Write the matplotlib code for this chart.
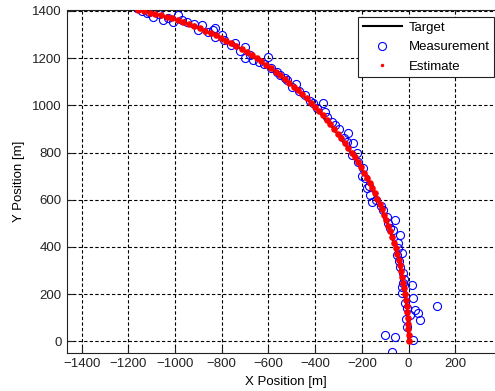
import matplotlib.pyplot as plt

# target track (every ~5 deg of the turn)
target_x = [0, -5, -22, -49, -86, -134, -192, -259, -335, -419, -511, -610, -715, -826, -941, -1060, -1157]
target_y = [0, 125, 248, 370, 489, 604, 715, 820, 919, 1011, 1095, 1171, 1238, 1296, 1344, 1381, 1404]

# noisy position measurements
meas_x = [-72, 21, -58, -101, -5, 49, -12, 8, 42, 28, -8, 121, -15, 21, -29, -30, 14, -22,
          -18, -22, -36, -40, -51, -29, -45, -44, -36, -65, -80, -90, -58, -93, -108, -120,
          -158, -140, -165, -179, -170, -186, -200, -194, -215, -243, -222, -236, -265, -275,
          -258, -300, -315, -330, -350, -358, -390, -365, -408, -420, -443, -470, -500, -480,
          -529, -522, -550, -565, -590, -620, -600, -640, -665, -700, -680, -720, -700, -743,
          -760, -790, -800, -829, -829, -836, -860, -886, -900, -920, -950, -970, -986, -1007,
          -1030, -1050, -1070, -1093, -1110, -1121, -1140, -1164]
meas_y = [-44, 6, 20, 27, 60, 90, 95, 110, 119, 133, 140, 150, 161, 182, 203, 230, 239, 246,
          265, 288, 316, 340, 366, 373, 395, 415, 450, 472, 480, 500, 514, 528, 556, 575,
          592, 600, 620, 648, 660, 691, 700, 733, 760, 789, 800, 839, 846, 860,
          881, 900, 917, 930, 950, 973, 990, 1008, 1008, 1020, 1044, 1060, 1079, 1090,
          1114, 1107, 1130, 1143, 1160, 1175, 1206, 1185, 1192, 1199, 1215, 1230, 1249, 1263,
          1255, 1275, 1298, 1326, 1291, 1319, 1310, 1340, 1320, 1345, 1354, 1360, 1383, 1354,
          1370, 1362, 1385, 1376, 1395, 1390, 1400, 1411]

# filter estimate (red dots along the track)
est_x = [0, 0, -1, -2, -3, -5, -8, -11, -14, -18, -22, -26, -31, -37, -42, -49, -55, -62, -70, -78,
         -86, -95, -104, -114, -124, -134, -145, -156, -167, -179, -192, -204, -217, -231, -244,
         -259, -273, -288, -303, -319, -335, -351, -367, -384, -401, -419, -437, -455, -473, -492,
         -511, -530, -550, -569, -589, -610, -630, -651, -672, -693, -715, -737, -759, -781, -803,
         -826, -848, -871, -894, -918, -941, -964, -988, -1012, -1036, -1060, -1084, -1108, -1133, -1157]
est_y = [0, 25, 50, 75, 100, 125, 149, 174, 199, 224, 248, 273, 297, 322, 346, 370, 394, 418, 442, 466,
         489, 512, 536, 559, 582, 604, 627, 649, 671, 693, 715, 737, 758, 779, 800,
         820, 841, 861, 880, 900, 919, 938, 957, 975, 993, 1011, 1029, 1046, 1063, 1079,
         1095, 1111, 1127, 1142, 1157, 1171, 1186, 1199, 1213, 1226, 1238, 1251, 1263, 1274, 1285,
         1296, 1306, 1316, 1326, 1335, 1344, 1352, 1360, 1368, 1375, 1381, 1388, 1393, 1399, 1404]

plt.rcParams['font.family'] = ['Liberation Sans', 'DejaVu Sans']

fig = plt.figure(figsize=(4.95, 3.91), dpi=100)
ax = fig.add_axes([66.7 / 495, 1 - 353.3 / 391, (505 - 66.7) / 495, (353.3 - 10) / 391])

ax.plot(target_x, target_y, color='black', lw=1.5, label='Target', zorder=3)
ax.plot(meas_x, meas_y, 'o', mfc='none', mec='blue', ms=5.8, mew=0.8, label='Measurement', zorder=2)
ax.plot(est_x, est_y, '.', color='red', ms=9.5, mew=0, label='Estimate', zorder=4)

ax.set_xlim(-1464, 413)
ax.set_ylim(-51, 1404)
ax.set_xticks(range(-1400, 201, 200))
ax.set_yticks(range(0, 1401, 200))
ax.tick_params(direction='in', labelsize=9.5, length=4, colors='#222222')
ax.grid(True, color='black', linestyle=(0, (3, 2)), lw=0.8)
for s in ax.spines.values():
    s.set_color('#222222')

ax.set_xlabel('X Position [m]', fontsize=9.5, labelpad=4)
ax.set_ylabel('Y Position [m]', fontsize=9.5, labelpad=5)

leg = ax.legend(loc='upper left', bbox_to_anchor=(358 / 495, 1 - 17 / 391), bbox_transform=fig.transFigure,
                fontsize=9.5, fancybox=False, framealpha=1, edgecolor='#222222',
                handlelength=3.0, handletextpad=0.5, borderaxespad=0, borderpad=0.35,
                labelspacing=0.55)
leg.get_frame().set_linewidth(0.8)
leg.legend_handles[2].set_markersize(5)

fig.savefig('out.png', dpi=100)
